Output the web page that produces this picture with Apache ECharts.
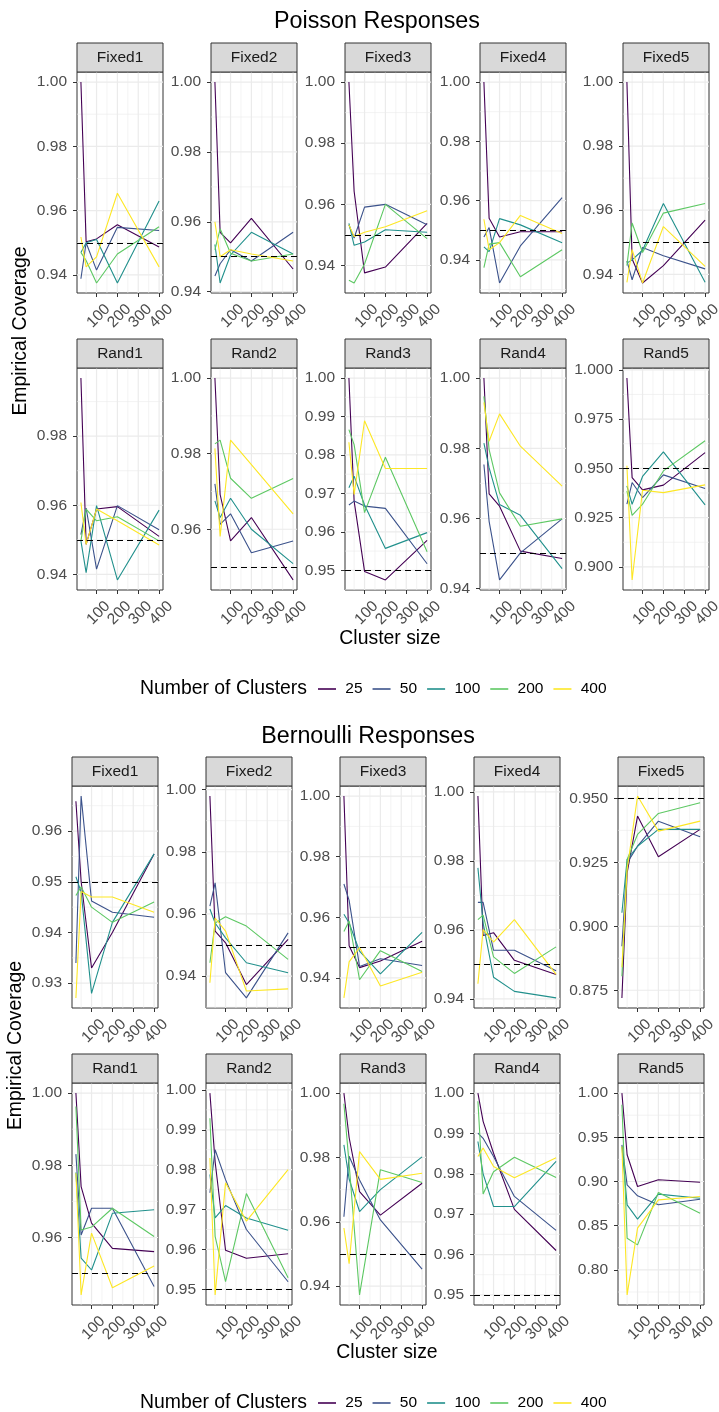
<!DOCTYPE html>
<html><head><meta charset="utf-8">
<script src="https://cdn.jsdelivr.net/npm/echarts@6/dist/echarts.min.js"></script>
<style>html,body{margin:0;padding:0;background:#fff}#chart{width:719px;height:1412px}</style>
</head><body><div id="chart"></div>
<script>
// ---------------- data ----------------
const clusterSizes = [25, 50, 100, 200, 400];          // x values
const clusterCounts = ['25', '50', '100', '200', '400']; // series (Number of Clusters)
const panelNames = ['Fixed1','Fixed2','Fixed3','Fixed4','Fixed5','Rand1','Rand2','Rand3','Rand4','Rand5'];
const xTickLabels = ['100', '200', '300', '400'];
const targetCoverage = 0.95;
const familyTitles = ['Poisson Responses', 'Bernoulli Responses'];
const legendTitle = 'Number of Clusters';
const xAxisTitle = 'Cluster size';
const yAxisTitle = 'Empirical Coverage';

// each panel: rows = number of clusters 25,50,100,200,400 ; columns = cluster size 25,50,100,200,400
const poisFixed1 = [[1.000,0.9503,0.9512,0.9556,0.9487],[0.9388,0.9500,0.9415,0.9548,0.9538],[0.9470,0.9500,0.9510,0.9375,0.9630],[0.9470,0.9445,0.9375,0.9465,0.9550],[0.9518,0.9425,0.9456,0.9654,0.9425]];
const poisFixed2 = [[1.000,0.9570,0.9540,0.9610,0.9465],[0.9445,0.9480,0.9520,0.9488,0.9570],[0.9535,0.9425,0.9505,0.9570,0.9508],[0.9520,0.9580,0.9510,0.9488,0.9508],[0.9600,0.9500,0.9520,0.9508,0.9488]];
const poisFixed3 = [[1.000,0.9643,0.9376,0.9395,0.9538],[0.9533,0.9490,0.9591,0.9600,0.9533],[0.9538,0.9466,0.9477,0.9517,0.9509],[0.9352,0.9343,0.9405,0.9600,0.9488],[0.9533,0.9495,0.9509,0.9527,0.9579]];
const poisFixed4 = [[1.000,0.9540,0.9477,0.9495,0.9495],[0.9477,0.9509,0.9322,0.9447,0.9610],[0.9444,0.9428,0.9539,0.9518,0.9458],[0.9374,0.9453,0.9458,0.9343,0.9434],[0.9537,0.9434,0.9458,0.9550,0.9489]];
const poisFixed5 = [[1.000,0.9448,0.9373,0.9427,0.9569],[0.9442,0.9383,0.9484,0.9458,0.9417],[0.9435,0.9445,0.9475,0.9621,0.9375],[0.9427,0.9560,0.9468,0.9591,0.9621],[0.9375,0.9477,0.9373,0.9549,0.9425]];
const poisRand1 = [[0.9968,0.9487,0.9589,0.9596,0.9510],[0.9515,0.9592,0.9415,0.9599,0.9529],[0.9497,0.9405,0.9599,0.9384,0.9586],[0.9497,0.9589,0.9555,0.9567,0.9497],[0.9608,0.9487,0.9589,0.9555,0.9485]];
const poisRand2 = [[1.000,0.9692,0.9569,0.9631,0.9466],[0.9720,0.9613,0.9641,0.9538,0.9569],[0.9675,0.9631,0.9682,0.9600,0.9509],[0.9826,0.9836,0.9735,0.9682,0.9734],[0.9814,0.9581,0.9836,0.9771,0.9641]];
const poisRand3 = [[1.000,0.9680,0.9497,0.9475,0.9578],[0.9670,0.9680,0.9667,0.9661,0.9517],[0.9715,0.9745,0.9670,0.9557,0.9598],[0.9866,0.9827,0.9650,0.9794,0.9548],[0.9833,0.9697,0.9889,0.9765,0.9765]];
const poisRand4 = [[1.000,0.9670,0.9635,0.9507,0.9486],[0.9754,0.9592,0.9425,0.9502,0.9599],[0.9815,0.9744,0.9640,0.9609,0.9457],[0.9948,0.9796,0.9673,0.9578,0.9599],[0.9931,0.9820,0.9898,0.9806,0.9692]];
const poisRand5 = [[0.9958,0.9453,0.9391,0.9415,0.9580],[0.9318,0.9428,0.9352,0.9467,0.9398],[0.9411,0.9318,0.9459,0.9584,0.9315],[0.9386,0.9262,0.9318,0.9487,0.9640],[0.9513,0.8934,0.9389,0.9377,0.9416]];

const bernFixed1 = [[0.9659,0.9501,0.9330,0.9400,0.9555],[0.9340,0.9669,0.9462,0.9440,0.9430],[0.9510,0.9480,0.9280,0.9420,0.9555],[0.9473,0.9490,0.9450,0.9420,0.9460],[0.9271,0.9481,0.9470,0.9470,0.9440]];
const bernFixed2 = [[0.9979,0.9545,0.9507,0.9373,0.9518],[0.9625,0.9700,0.9411,0.9330,0.9539],[0.9616,0.9571,0.9523,0.9443,0.9411],[0.9443,0.9571,0.9591,0.9561,0.9454],[0.9379,0.9587,0.9545,0.9352,0.9359]];
const bernFixed3 = [[1.000,0.9506,0.9434,0.9456,0.9521],[0.9710,0.9656,0.9438,0.9463,0.9441],[0.9610,0.9581,0.9488,0.9413,0.9550],[0.9553,0.9588,0.9394,0.9490,0.9421],[0.9334,0.9453,0.9500,0.9373,0.9419]];
const bernFixed4 = [[0.9988,0.9584,0.9592,0.9512,0.9471],[0.9680,0.9680,0.9541,0.9541,0.9482],[0.9780,0.9620,0.9463,0.9422,0.9403],[0.9630,0.9643,0.9522,0.9474,0.9551],[0.9444,0.9601,0.9565,0.9630,0.9471]];
const bernFixed5 = [[0.8720,0.9209,0.9431,0.9272,0.9379],[0.8922,0.9248,0.9313,0.9411,0.9350],[0.9053,0.9261,0.9313,0.9379,0.9379],[0.8805,0.9261,0.9359,0.9441,0.9483],[0.8840,0.9222,0.9509,0.9372,0.9411]];
const bernRand1 = [[1.000,0.9741,0.9640,0.9570,0.9561],[0.9831,0.9607,0.9681,0.9681,0.9464],[0.9780,0.9543,0.9510,0.9667,0.9677],[0.9963,0.9621,0.9629,0.9681,0.9603],[0.9778,0.9441,0.9612,0.9461,0.9521]];
const bernRand2 = [[0.9992,0.9820,0.9598,0.9578,0.9589],[0.9742,0.9850,0.9775,0.9650,0.9519],[0.9788,0.9679,0.9710,0.9679,0.9648],[0.9929,0.9633,0.9519,0.9740,0.9529],[0.9829,0.9486,0.9767,0.9671,0.9800]];
const bernRand3 = [[1.000,0.9862,0.9694,0.9621,0.9720],[0.9616,0.9804,0.9730,0.9606,0.9453],[0.9839,0.9733,0.9632,0.9700,0.9802],[0.9967,0.9780,0.9373,0.9762,0.9722],[0.9581,0.9470,0.9818,0.9732,0.9751]];
const bernRand4 = [[1.000,0.9930,0.9851,0.9712,0.9610],[0.9901,0.9888,0.9843,0.9744,0.9660],[0.9880,0.9800,0.9719,0.9719,0.9831],[0.9980,0.9750,0.9805,0.9841,0.9791],[0.9843,0.9864,0.9818,0.9790,0.9840]];
const bernRand5 = [[1.000,0.9302,0.8943,0.9019,0.8992],[0.9415,0.8962,0.8838,0.8736,0.8800],[0.9396,0.8736,0.8574,0.8857,0.8811],[0.9868,0.8358,0.8283,0.8875,0.8642],[0.9396,0.7717,0.8472,0.8792,0.8830]];

// y tick labels per panel
const poisYTicks = [
  ['0.94','0.96','0.98','1.00'], ['0.94','0.96','0.98','1.00'], ['0.94','0.96','0.98','1.00'], ['0.94','0.96','0.98','1.00'], ['0.94','0.96','0.98','1.00'],
  ['0.94','0.96','0.98'], ['0.96','0.98','1.00'], ['0.95','0.96','0.97','0.98','0.99','1.00'], ['0.94','0.96','0.98','1.00'], ['0.900','0.925','0.950','0.975','1.000']
];
const bernYTicks = [
  ['0.93','0.94','0.95','0.96'], ['0.94','0.96','0.98','1.00'], ['0.94','0.96','0.98','1.00'], ['0.94','0.96','0.98','1.00'], ['0.875','0.900','0.925','0.950'],
  ['0.96','0.98','1.00'], ['0.95','0.96','0.97','0.98','0.99','1.00'], ['0.94','0.96','0.98','1.00'], ['0.95','0.96','0.97','0.98','0.99','1.00'], ['0.80','0.85','0.90','0.95','1.00']
];

// ---------------- layout / style ----------------
const COLORS = ['#440154', '#3B528B', '#21908C', '#5DC863', '#FDE725'];
const FONT = "'Liberation Sans', Arial, Helvetica, sans-serif";
const AX_FS = 15.5, TITLE_FS = 19.4, MAIN_FS = 23.3;
const PANEL_W = 86, STRIP_H = 29, XLAB_OFF = 23;
const LAYOUT = [
  {colLeft:[77,211,345,480,623], rowTop:[72,368], rowH:[221,222], titleX:377, titleY:22, xTitleX:390, xTitleY:639, legendY:689, yTitleX:21},
  {colLeft:[72,206,340,474,618], rowTop:[786,1083], rowH:[222,222], titleX:368, titleY:737, xTitleX:387, xTitleY:1353, legendY:1403, yTitleX:16}
];

const families = [
  {data:[poisFixed1,poisFixed2,poisFixed3,poisFixed4,poisFixed5,poisRand1,poisRand2,poisRand3,poisRand4,poisRand5], ticks: poisYTicks},
  {data:[bernFixed1,bernFixed2,bernFixed3,bernFixed4,bernFixed5,bernRand1,bernRand2,bernRand3,bernRand4,bernRand5], ticks: bernYTicks}
];

function txt(x, y, text, size, fill, align, rot) {
  return {type:'text', x, y, rotation: rot || 0, silent:true, z: 10,
    style:{text, x:0, y:0, fill, fontSize:size, fontFamily:FONT,
      align: align || 'center', verticalAlign:'middle', textAlign: align || 'center', textVerticalAlign:'middle'}};
}

const grids = [], xAxes = [], yAxes = [], series = [], graphics = [];
const xNums = xTickLabels.map(Number);
const xlo = Math.min(...clusterSizes), xhi = Math.max(...clusterSizes), xpad = (xhi - xlo) * 0.05;
const xMin = xlo - xpad, xMax = xhi + xpad;
const xStep = xNums[1] - xNums[0];
const xMinor = [];
[xNums[0] - xStep / 2, ...xNums.slice(0, -1).map(v => v + xStep / 2), xNums[xNums.length - 1] + xStep / 2]
  .forEach(v => { if (v >= xMin && v <= xMax) xMinor.push(v); });

families.forEach((fam, f) => {
  const L = LAYOUT[f];
  graphics.push(txt(L.titleX, L.titleY, familyTitles[f], MAIN_FS, '#000'));
  graphics.push(txt(L.xTitleX, L.xTitleY, xAxisTitle, TITLE_FS, '#000'));
  graphics.push(txt(L.yTitleX, (L.rowTop[0] + L.rowTop[1] + L.rowH[1]) / 2, yAxisTitle, TITLE_FS, '#000', 'center', Math.PI / 2));
  graphics.push(txt(307, L.legendY, legendTitle, TITLE_FS, '#000', 'right'));

  fam.data.forEach((panel, i) => {
    const k = f * 10 + i, c = i % 5, r = Math.floor(i / 5);
    const left = L.colLeft[c], top = L.rowTop[r], h = L.rowH[r];
    grids.push({left, top, width: PANEL_W, height: h, show: true, borderColor: '#333333', borderWidth: 1, backgroundColor: '#FFFFFF'});
    graphics.push({type:'rect', silent:true, z: 5, shape:{x:left, y:top - STRIP_H, width:PANEL_W, height:STRIP_H},
      style:{fill:'#D9D9D9', stroke:'#333333', lineWidth:1}});
    graphics.push(txt(left + PANEL_W / 2, top - STRIP_H / 2, panelNames[i], AX_FS, '#1A1A1A'));

    // y range like ggplot (data + reference line, 5% expansion)
    const all = panel.flat().concat([targetCoverage]);
    const lo = Math.min(...all), hi = Math.max(...all), pad = (hi - lo) * 0.05;
    const yMin = lo - pad, yMax = hi + pad;
    const tickStr = fam.ticks[i];
    const dec = tickStr[0].split('.')[1].length;
    const yNums = tickStr.map(Number);
    const yStep = yNums[1] - yNums[0];
    const yMinor = [];
    [yNums[0] - yStep / 2, ...yNums.slice(0, -1).map(v => v + yStep / 2), yNums[yNums.length - 1] + yStep / 2]
      .forEach(v => { if (v >= yMin && v <= yMax) yMinor.push(v); });

    xAxes.push({type:'value', gridIndex:k, min:xMin, max:xMax,
      axisLine:{show:false}, splitLine:{show:false},
      axisTick:{show:true, length:4, lineStyle:{color:'#333333', width:1}, customValues:xNums},
      axisLabel:{show:false}});
    yAxes.push({type:'value', gridIndex:k, min:yMin, max:yMax,
      axisLine:{show:false}, splitLine:{show:false},
      axisTick:{show:true, length:4, lineStyle:{color:'#333333', width:1}, customValues:yNums},
      axisLabel:{customValues:yNums, margin:10, fontSize:AX_FS, color:'#4D4D4D', fontFamily:FONT,
        showMinLabel:true, showMaxLabel:true, hideOverlap:false,
        formatter: v => v.toFixed(dec)}});

    // grid lines (major + minor) drawn through the axes' scales
    const xMid = (xMin + xMax) / 2, yMid = (yMin + yMax) / 2;
    const gl = [];
    yNums.forEach(v => gl.push([xMid, v, 0, 1]));
    yMinor.forEach(v => gl.push([xMid, v, 0, 0]));
    xNums.forEach(v => gl.push([v, yMid, 1, 1]));
    xMinor.forEach(v => gl.push([v, yMid, 1, 0]));
    series.push({type:'custom', xAxisIndex:k, yAxisIndex:k, z:1, silent:true, animation:false, data: gl,
      renderItem: (params, api) => {
        const cs = params.coordSys;
        const p = api.coord([api.value(0), api.value(1)]);
        const isV = api.value(2) === 1, major = api.value(3) === 1;
        const shape = isV ? {x1:p[0], y1:cs.y, x2:p[0], y2:cs.y + cs.height}
                          : {x1:cs.x, y1:p[1], x2:cs.x + cs.width, y2:p[1]};
        return {type:'line', shape, silent:true, style:{stroke:'#EBEBEB', lineWidth: major ? 1.2 : 0.6}};
      }});

    // x tick labels (rotated 45°, centred under each tick), positioned via the x scale
    series.push({type:'custom', xAxisIndex:k, yAxisIndex:k, z:3, silent:true, animation:false, clip:false,
      data: xNums.map((v, j) => [v, yMid, j]),
      renderItem: (params, api) => {
        const cs = params.coordSys;
        const p = api.coord([api.value(0), api.value(1)]);
        return {type:'text', x: p[0] + 2, y: cs.y + cs.height + XLAB_OFF, rotation: Math.PI / 4, silent:true,
          style:{text: xTickLabels[api.value(2)], fill:'#4D4D4D', fontSize:AX_FS, fontFamily:FONT,
            align:'center', verticalAlign:'middle', textAlign:'center', textVerticalAlign:'middle'}};
      }});

    panel.forEach((row, s) => {
      const ser = {type:'line', name: clusterCounts[s], xAxisIndex:k, yAxisIndex:k, z:2, silent:true,
        animation:false, showSymbol:false, symbol:'none',
        data: clusterSizes.map((x, j) => [x, row[j]]),
        lineStyle:{color:COLORS[s], width:1.1}, itemStyle:{color:COLORS[s]}};
      if (s === panel.length - 1) {
        ser.markLine = {silent:true, animation:false, symbol:['none','none'], label:{show:false},
          lineStyle:{color:'#000000', type:[6,4], width:1.1}, data:[{yAxis: targetCoverage}]};
      }
      series.push(ser);
    });
  });
});

const legends = LAYOUT.map(L => ({
  data: clusterCounts.map(n => ({name:n})), left: 318, top: L.legendY - 8, orient:'horizontal',
  icon:'rect', itemWidth:18, itemHeight:1.6, itemGap:10, padding:0, selectedMode:false,
  formatter: n => ' ' + n, textStyle:{fontSize:AX_FS, color:'#000', fontFamily:FONT}
}));

const chart = echarts.init(document.getElementById('chart'), null, {renderer:'canvas'});
chart.setOption({
  animation:false, backgroundColor:'#FFFFFF',
  grid: grids, xAxis: xAxes, yAxis: yAxes, series, legend: legends,
  graphic: {elements: graphics}
});
</script>
</body></html>
